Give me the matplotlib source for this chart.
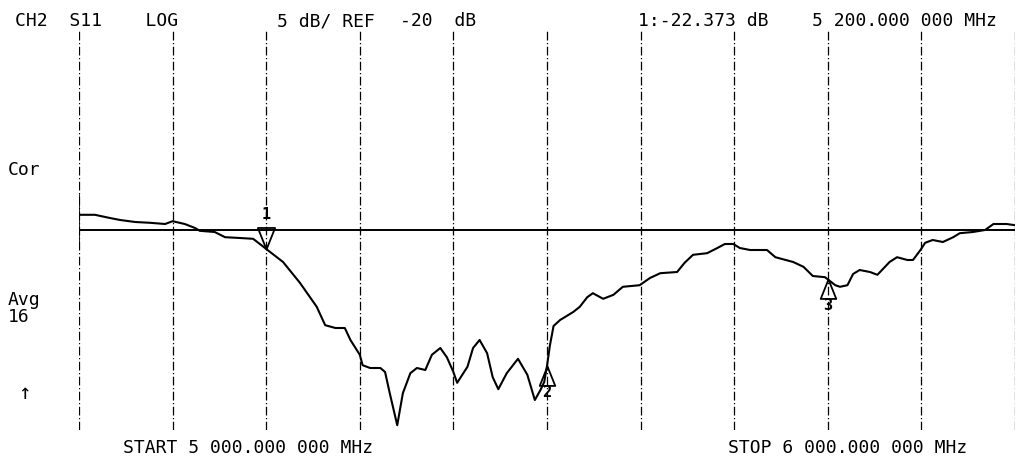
import numpy as np
import matplotlib
matplotlib.use('Agg')
import matplotlib.pyplot as plt

# S11 trace
freq_mhz = [5000, 5017, 5033, 5044, 5060, 5076, 5092, 5100, 5113, 5124, 5129, 5145,
            5156, 5172, 5186, 5196, 5200, 5218, 5236, 5254, 5263, 5274, 5284, 5290,
            5300, 5303, 5311, 5322, 5327, 5332, 5340, 5346, 5354, 5361, 5370, 5377,
            5386, 5393, 5400, 5404, 5415, 5421, 5428, 5436, 5442, 5448, 5457, 5469,
            5479, 5487, 5493, 5497, 5500, 5503, 5507, 5514, 5528, 5535, 5543, 5549,
            5560, 5571, 5581, 5599, 5610, 5621, 5639, 5647, 5656, 5671, 5682, 5690,
            5699, 5706, 5717, 5735, 5744, 5763, 5774, 5784, 5797, 5808, 5813, 5821,
            5827, 5834, 5845, 5853, 5866, 5874, 5885, 5891, 5899, 5904, 5912, 5923,
            5934, 5941, 5955, 5968, 5977, 5991, 6000]
s11_db = [-18.1, -18.1, -18.5, -18.75, -19.0, -19.1, -19.25, -18.9, -19.25, -19.75, -20.1, -20.25,
          -20.9, -21.0, -21.1, -22.0, -22.37, -24.0, -26.6, -29.6, -31.9, -32.25, -32.25, -33.75,
          -35.6, -36.9, -37.25, -37.25, -37.75, -40.4, -44.4, -40.4, -37.9, -37.25, -37.5, -35.6,
          -34.75, -35.9, -37.75, -39.1, -37.1, -34.75, -33.75, -35.4, -38.4, -39.9, -37.9, -36.1,
          -38.1, -41.25, -40.0, -39.0, -37.0, -34.5, -32.0, -31.25, -30.25, -29.6, -28.4, -27.9,
          -28.6, -28.1, -27.1, -26.9, -26.0, -25.4, -25.25, -24.1, -23.1, -22.9, -22.25, -21.75,
          -21.75, -22.25, -22.5, -22.5, -23.4, -24.0, -24.6, -25.75, -25.9, -26.9, -27.1, -26.9,
          -25.5, -25.0, -25.25, -25.6, -24.0, -23.4, -23.75, -23.75, -22.5, -21.6, -21.25, -21.5,
          -20.9, -20.4, -20.25, -20.0, -19.25, -19.25, -19.4]

start_mhz = 5000
stop_mhz = 6000
ref_db = -20
scale_db = 5
marker_freqs = [5200, 5500, 5800]
marker_names = ['1', '2', '3']

fig = plt.figure(figsize=(10.16, 4.63), dpi=100)
ax = fig.add_axes([79/1016, 33/463, 936/1016, 400/463])
ax.set_xlim(start_mhz, stop_mhz)
ax.set_ylim(ref_db - 5*scale_db, ref_db + 5*scale_db)
ax.axis('off')

for f in np.linspace(start_mhz, stop_mhz, 11):
    ax.axvline(f, color='black', lw=0.9, ls=(0, (7, 2, 1, 2)))
ax.plot([start_mhz, start_mhz], [-15.6, -22.0], color='black', lw=1.2)
ax.axhline(ref_db, color='black', lw=1.4)

ax.plot(freq_mhz, s11_db, color='black', lw=1.5)

down_tri = [(0, 0), (-0.4, 1), (0.4, 1), (0, 0)]
up_tri = [(0, 0), (-0.4, -1), (0.4, -1), (0, 0)]
for i, f in enumerate(marker_freqs):
    v = np.interp(f, freq_mhz, s11_db)
    if i == 0:
        ax.plot(f, v, marker=down_tri, ms=31, mfc='none', mec='black', mew=1.3)
        ax.annotate(marker_names[i], (f, v), xytext=(0, 25), textcoords='offset points',
                    ha='center', va='center', fontsize=11, fontweight='bold',
                    family='DejaVu Sans Mono')
    else:
        ax.plot(f, v, marker=up_tri, ms=28, mfc='none', mec='black', mew=1.3)
        ax.annotate(marker_names[i], (f, v), xytext=(0, -19), textcoords='offset points',
                    ha='center', va='center', fontsize=11, fontweight='bold',
                    family='DejaVu Sans Mono')

labels = [
    (15, 26, 'CH2  S11    LOG'),
    (277, 26, '5 dB/ REF'),
    (400, 26, '-20  dB'),
    (638, 26, '1:-22.373 dB'),
    (812, 26, '5 200.000 000 MHz'),
    (8, 175, 'Cor'),
    (8, 305, 'Avg'),
    (8, 322, '16'),
    (123, 453, 'START 5 000.000 000 MHz'),
    (728, 453, 'STOP 6 000.000 000 MHz'),
]
for x, y, s in labels:
    fig.text(x/1016, 1 - y/463, s, ha='left', va='baseline', fontsize=13,
             family='DejaVu Sans Mono', color='black')
fig.text(18/1016, 1 - 399/463, '\u2191', ha='left', va='baseline', fontsize=15,
         family='DejaVu Sans Mono', color='black')

fig.savefig('out.png', dpi=100, facecolor='white')
